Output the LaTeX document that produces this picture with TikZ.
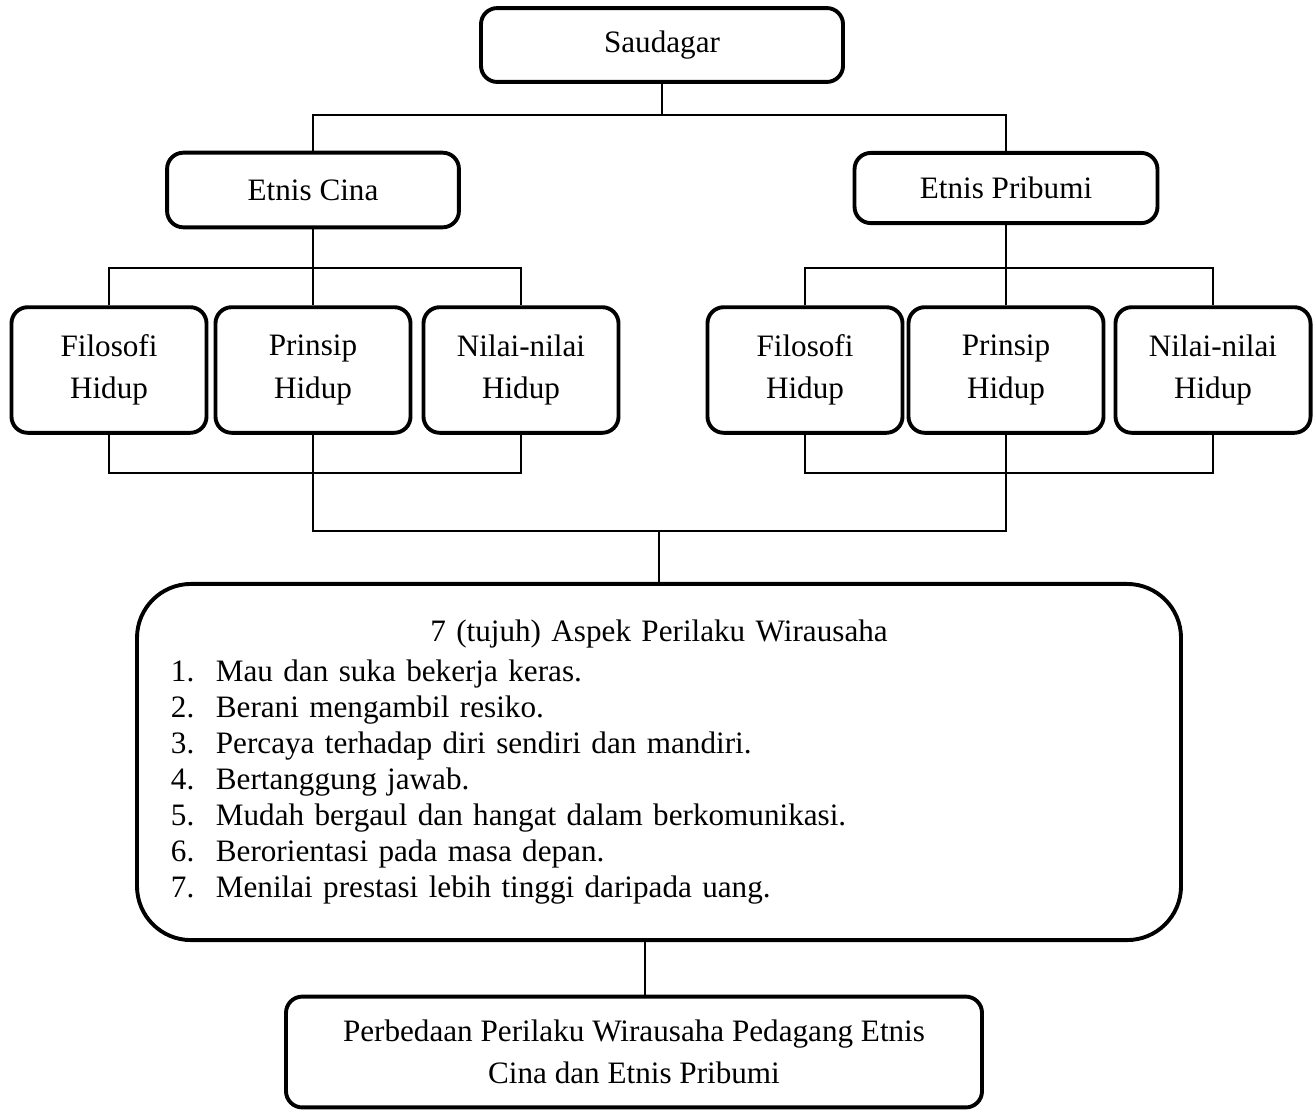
\documentclass[tikz,border=0pt]{standalone}
\usepackage{fontspec}
\setmainfont{Liberation Serif}
\begin{document}
\begin{tikzpicture}[x=0.01353cm, y=-0.01353cm,
    box/.style={draw, line width=1.5pt, rounded corners=0.22cm, align=center,
        font=\fontsize{12pt}{16.2pt}\selectfont},
    hiduppbox/.style={box, minimum width=2.64cm, minimum height=1.70cm},
    bigbox/.style={draw, line width=1.5pt, rounded corners=0.73cm,
        text width=13.21cm, inner xsep=0.46cm, minimum height=4.82cm,
        font=\fontsize{12pt}{13.85pt}\selectfont},
    link/.style={line width=0.75pt}]
    \useasboundingbox (0,0) rectangle (1314,1110);

    \node[box, minimum width=4.90cm, minimum height=1.00cm] (saud) at (662,45) {Saudagar};
    \node[box, minimum width=3.95cm, minimum height=1.01cm] (cina) at (313,190) {Etnis Cina};
    \node[box, minimum width=4.10cm, minimum height=0.95cm] (prib) at (1006,188) {Etnis Pribumi};

    \node[hiduppbox] (ffc) at (109,370) {Filosofi\\Hidup};
    \node[hiduppbox] (prc) at (313,370) {Prinsip\\Hidup};
    \node[hiduppbox] (nlc) at (521,370) {Nilai-nilai\\Hidup};
    \node[hiduppbox] (ffp) at (805,370) {Filosofi\\Hidup};
    \node[hiduppbox] (prp) at (1006,370) {Prinsip\\Hidup};
    \node[hiduppbox] (nlp) at (1213,370) {Nilai-nilai\\Hidup};

    \node[bigbox] (aspek) at (659,762) {{\centering 7 (tujuh) Aspek Perilaku Wirausaha\par}\vspace{1.5pt}
        \raggedright
        \makebox[17.3pt][l]{1.}Mau dan suka bekerja keras.\par
        \makebox[17.3pt][l]{2.}Berani mengambil resiko.\par
        \makebox[17.3pt][l]{3.}Percaya terhadap diri sendiri dan mandiri.\par
        \makebox[17.3pt][l]{4.}Bertanggung jawab.\par
        \makebox[17.3pt][l]{5.}Mudah bergaul dan hangat dalam berkomunikasi.\par
        \makebox[17.3pt][l]{6.}Berorientasi pada masa depan.\par
        \makebox[17.3pt][l]{7.}Menilai prestasi lebih tinggi daripada uang.};
    \node[box, minimum width=9.42cm, minimum height=1.50cm] (beda) at (634,1052)
        {Perbedaan Perilaku Wirausaha Pedagang Etnis\\Cina dan Etnis Pribumi};

    \coordinate (busA) at (662,115);
    \coordinate (busB) at (313,268);
    \coordinate (busC) at (1006,268);
    \coordinate (busD) at (313,473);
    \coordinate (busE) at (1006,473);
    \coordinate (busF) at (659,531);
    \coordinate (busG) at (645,940);

    \draw[link] (saud.south) -- (busA);
    \draw[link] (cina.north) |- (busA) -| (prib.north);
    \draw[link] (cina.south) -- (prc.north);
    \draw[link] (ffc.north) |- (busB) -| (nlc.north);
    \draw[link] (prib.south) -- (prp.north);
    \draw[link] (ffp.north) |- (busC) -| (nlp.north);
    \draw[link] (ffc.south) |- (busD) -| (nlc.south);
    \draw[link] (ffp.south) |- (busE) -| (nlp.south);
    \draw[link] (prc.south) |- (busF) -| (prp.south);
    \draw[link] (busF) -- (aspek.north);
    \draw[link] (busG) -- (busG |- beda.north);
\end{tikzpicture}
\end{document}
